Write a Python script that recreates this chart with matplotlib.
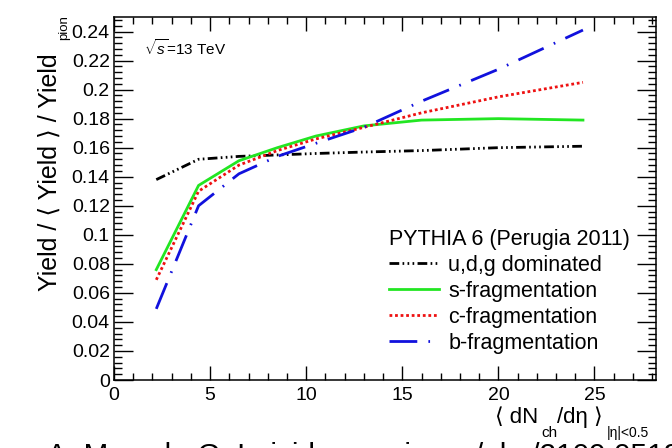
import matplotlib
matplotlib.use('Agg')
import matplotlib.pyplot as plt
from matplotlib.ticker import MultipleLocator

plt.rcParams['font.family'] = ['Liberation Sans', 'DejaVu Sans']
plt.rcParams['mathtext.fontset'] = 'custom'
plt.rcParams['mathtext.rm'] = 'Liberation Sans'
plt.rcParams['mathtext.it'] = 'Liberation Sans:italic'
plt.rcParams['mathtext.bf'] = 'Liberation Sans:bold'

## Data
# multiplicity <dN_ch/deta>
mult = [2.2, 4.4, 6.5, 8.5, 10.5, 13.0, 16.0, 20.0, 24.4]
# yield / <yield> / yield_pion
udg = [0.138, 0.152, 0.154, 0.155, 0.156, 0.157, 0.158, 0.160, 0.161]
sfrag = [0.076, 0.134, 0.151, 0.160, 0.168, 0.175, 0.179, 0.180, 0.179]
cfrag = [0.069, 0.130, 0.148, 0.158, 0.166, 0.174, 0.184, 0.195, 0.205]
bfrag = [0.049, 0.120, 0.142, 0.154, 0.163, 0.174, 0.192, 0.214, 0.241]
labels = ['u,d,g dominated', 's-fragmentation', 'c-fragmentation', 'b-fragmentation']

W, H = 672, 448  # figure size in px

## Plot
fig = plt.figure(figsize=(W/100, H/100), dpi=100)
ax = fig.add_axes([114/W, 1 - 380/H, 542/W, 363/H])

lw = 2.0
ax.plot(mult, udg, color='k', lw=lw, dashes=(3.5, 1.2, 0.6, 1.2, 0.6, 1.2, 0.6, 1.2),
        dash_capstyle='butt', label=labels[0])
ax.plot(mult, sfrag, color='#22e622', lw=lw, label=labels[1])
ax.plot(mult, cfrag, color='#ee1111', lw=lw, dashes=(1.0, 1.0), dash_capstyle='butt',
        label=labels[2])
ax.plot(mult, bfrag, color='#1111dd', lw=lw, dashes=(10, 4, 0.6, 4),
        dash_capstyle='butt', label=labels[3])

ax.set_xlim([0, 28.2])
ax.set_ylim([0, 0.25])
ax.xaxis.set_major_locator(MultipleLocator(5))
ax.xaxis.set_minor_locator(MultipleLocator(1))
ax.yaxis.set_major_locator(MultipleLocator(0.02))
ax.yaxis.set_minor_locator(MultipleLocator(0.004))
ax.yaxis.set_major_formatter(plt.FuncFormatter(lambda v, p: ('%g' % round(v, 3))))
ax.tick_params(which='both', direction='in', top=True, right=True, labelsize=14, width=1.0)
ax.tick_params(axis='y', which='major', length=14, pad=3)
ax.tick_params(axis='y', which='minor', length=6)
ax.tick_params(axis='x', which='major', length=10, pad=5)
ax.tick_params(axis='x', which='minor', length=5)
for sp in ax.spines.values():
    sp.set_linewidth(1.1)

# y title, ROOT style (subscript set well below the baseline)
fig.text(57/W, 1 - 172/H, 'Yield / \u27e8 Yield \u27e9 / Yield', fontsize=18, rotation=90,
         rotation_mode='anchor', ha='center', va='baseline')
fig.text(67/W, 1 - 28/H, 'pion', fontsize=9.5, rotation=90,
         rotation_mode='anchor', ha='center', va='baseline')

# x title, ROOT style
xt_y = 1 - 423/H
xt_sub = 1 - 437/H
fig.text(495/W, xt_y, '\u27e8 dN', fontsize=16)
fig.text(541/W, xt_sub, 'ch', fontsize=11)
fig.text(557/W, xt_y, '/d\u03b7 \u27e9', fontsize=16)
fig.text(607/W, xt_sub, '|\u03b7|<0.5', fontsize=10)

ax.text(0.055, 0.895, r'$\sqrt{s}$=13 TeV', transform=ax.transAxes, fontsize=11)

leg = ax.legend(title='PYTHIA 6 (Perugia 2011)', frameon=False, fontsize=15.5,
                title_fontsize=15.5, alignment='left', handlelength=2.3,
                handletextpad=0.45, labelspacing=0.23, borderpad=0, borderaxespad=0,
                loc='upper left', bbox_to_anchor=(389/W, 1 - 229/H),
                bbox_transform=fig.transFigure)

fig.text(47/W, -0.0357, 'A. Morsch, G. Leivides, arxiv.org/abs/2109.05180', fontsize=21.4,
         va='baseline')

fig.savefig('out.png', dpi=100)
